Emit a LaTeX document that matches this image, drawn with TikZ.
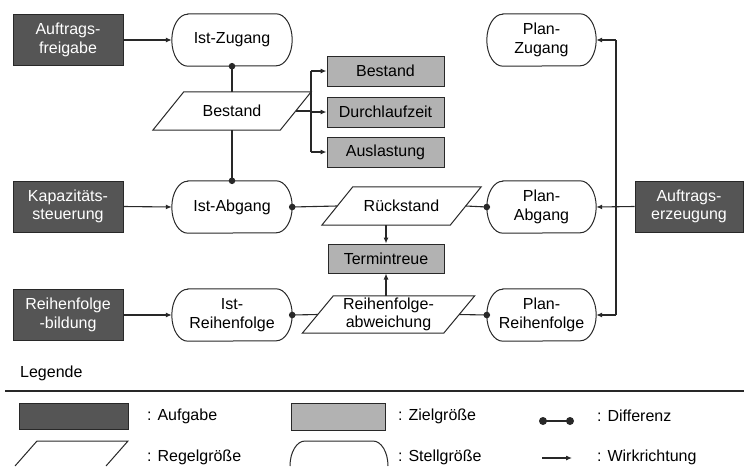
\documentclass[tikz,border=0pt]{standalone}
\usepackage{fontspec}
\setmainfont{Liberation Sans}
\usetikzlibrary{arrows.meta}
\definecolor{aufg}{RGB}{85,85,85}
\definecolor{ziel}{RGB}{178,178,178}
\definecolor{lin}{RGB}{40,40,40}
\tikzset{
 base/.style={font=\fontsize{16}{18.5}\selectfont, align=center, inner sep=0pt},
 aufgabe/.style={base, draw=lin, fill=aufg, text=white, minimum width=110pt, minimum height=51pt, line width=1pt},
 zielbox/.style={base, draw=lin, fill=ziel, minimum width=117pt, minimum height=30pt, line width=1pt},
 stelltext/.style={base, minimum height=52pt},
 regeltext/.style={base},
 outline/.style={draw=lin, line width=1pt, line join=miter},
 conn/.style={draw=lin, line width=1.1pt},
 arr/.style={conn, -{Latex[length=6pt,width=5pt]}},
 lbl/.style={base, anchor=west},
}
\newcommand\stellnode[5]{%
 \node[stelltext, minimum width=#4] (#1) at (#2,#3) {#5};
 \draw[outline] ([xshift=16pt]#1.north west) -- ([xshift=-16pt]#1.north east)
   arc[start angle=90,end angle=-90,x radius=16pt,y radius=26pt]
   -- ([xshift=16pt]#1.south west)
   arc[start angle=270,end angle=90,x radius=16pt,y radius=26pt] -- cycle;}
\newcommand\regelnode[6]{%
 \node[regeltext, minimum width=#4, minimum height=#5] (#1) at (#2,#3) {#6};
 \draw[outline] ([xshift=15.5pt]#1.north west) -- ([xshift=15.5pt]#1.north east)
   -- ([xshift=-15.5pt]#1.south east) -- ([xshift=-15.5pt]#1.south west) -- cycle;}
\newcommand\dotat[1]{\fill[lin] (#1) circle (3.3pt);}
\begin{document}
\begin{tikzpicture}[x=1pt,y=-1pt]
\useasboundingbox[fill=white] (0,0) rectangle (744,466);
% Aufgaben
\node[aufgabe] (af) at (68,40) {Auftrags-\\freigabe};
\node[aufgabe] (ks) at (68,206.5) {Kapazitäts-\\steuerung};
\node[aufgabe] (rb) at (68,315) {Reihenfolge\\-bildung};
\node[aufgabe, minimum width=108pt] (ae) at (689,206.5) {Auftrags-\\erzeugung};
% Stellgroessen
\stellnode{iz}{232}{40}{120pt}{Ist-Zugang}
\stellnode{ia}{232}{207}{120pt}{Ist-Abgang}
\stellnode{ir}{232}{315}{120pt}{Ist-\\Reihenfolge}
\stellnode{pz}{541.5}{40}{109pt}{Plan-\\Zugang}
\stellnode{pa}{541.5}{207}{109pt}{Plan-\\Abgang}
\stellnode{pr}{541.5}{315}{109pt}{Plan-\\Reihenfolge}
% Regelgroessen
\regelnode{bs}{232}{111}{127pt}{38pt}{Bestand}
\regelnode{rs}{401.5}{206}{128pt}{38pt}{Rückstand}
\regelnode{rf}{388.5}{314.5}{141pt}{37pt}{Reihenfolge-\\abweichung}
% Zielgroessen
\node[zielbox] (zb) at (385.5,71) {Bestand};
\node[zielbox] (zd) at (385.5,112) {Durchlaufzeit};
\node[zielbox] (za) at (385.5,152) {Auslastung};
\node[zielbox, minimum width=116pt, minimum height=29pt] (tt) at (386,258.5) {Termintreue};
% connectors
\draw[arr] (af.east) -- (iz.west);
\draw[arr] (ks.east) -- (ia.west);
\draw[arr] (rb.east) -- (ir.west);
\draw[conn] (iz.south) -- (bs.north); \dotat{iz.south}
\draw[conn] (bs.south) -- (ia.north); \dotat{ia.north}
\coordinate (vx) at (311,111);
\draw[conn] (bs.east) -- (vx);
\draw[conn] (vx |- zb.west) -- (vx |- za.west);
\draw[arr] (vx |- zb.west) -- (zb.west);
\draw[arr] (vx |- zd.west) -- (zd.west);
\draw[arr] (vx |- za.west) -- (za.west);
\draw[conn] (ia.east) -- (rs.west); \dotat{ia.east}
\draw[conn] (rs.east) -- (pa.west); \dotat{pa.west}
\draw[arr] (tt.north |- rs.south) -- (tt.north);
\draw[arr] (tt.south |- rf.north) -- (tt.south);
\draw[conn] (ir.east) -- (rf.west); \dotat{ir.east}
\draw[conn] (rf.east) -- (pr.west); \dotat{pr.west}
\draw[arr] (ae.west) -- (pa.east);
\coordinate (vr) at (616,40);
\draw[conn] (vr |- pz.east) -- (vr |- pr.east);
\draw[arr] (vr |- pz.east) -- (pz.east);
\draw[arr] (vr |- pr.east) -- (pr.east);
% Legende
\node[lbl] (lg) at (20,373) {Legende};
\coordinate (l1) at (5,391); \coordinate (l2) at (744,391);
\draw[conn] (l1) -- (l2);
\node[aufgabe, minimum width=109pt, minimum height=26pt] (la) at (73.5,416) {};
\node[lbl] (lat) at (147,416) {: Aufgabe};
\node[zielbox, minimum width=94pt, minimum height=27pt] (lz) at (338,416.5) {};
\node[lbl] (lzt) at (398,416) {: Zielgröße};
\coordinate (d1) at (543,421); \coordinate (d2) at (570,421);
\draw[conn] (d1) -- (d2); \fill[lin] (d1) circle (4pt); \fill[lin] (d2) circle (4pt);
\node[lbl] (ldt) at (597,416) {: Differenz};
\draw[outline] (15,466) -- (37,441) -- (128,441) -- (106,466);
\node[lbl] (lrt) at (147,457) {: Regelgröße};
\draw[outline] (290,466) arc[start angle=180,end angle=90,x radius=15pt,y radius=25pt]
  -- (373,441) arc[start angle=90,end angle=0,x radius=15pt,y radius=25pt];
\node[lbl] (lst) at (398,457) {: Stellgröße};
\coordinate (w1) at (542,458); \coordinate (w2) at (572,458);
\draw[arr] (w1) -- (w2);
\node[lbl] (lwt) at (597,457) {: Wirkrichtung};
\end{tikzpicture}
\end{document}
